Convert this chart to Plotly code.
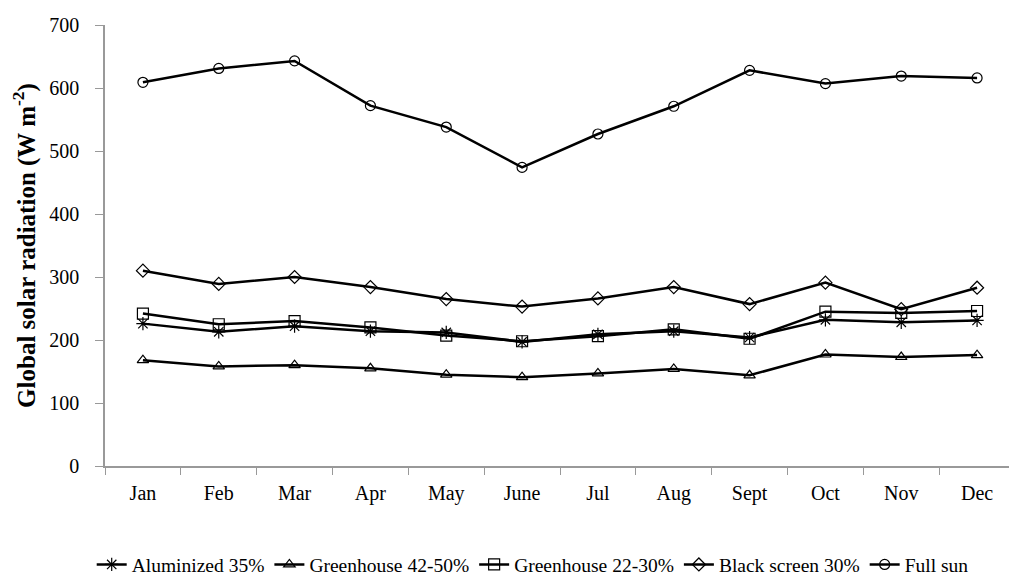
import plotly.graph_objects as go

months = ["Jan", "Feb", "Mar", "Apr", "May", "June", "Jul", "Aug", "Sept", "Oct", "Nov", "Dec"]
aluminized = [226, 213, 222, 214, 212, 197, 209, 214, 204, 232, 228, 231]
greenhouse_42_50 = [168, 158, 160, 155, 145, 141, 147, 154, 144, 177, 173, 176]
greenhouse_22_30 = [242, 225, 230, 220, 207, 198, 206, 217, 202, 245, 243, 246]
black_screen = [310, 289, 300, 284, 265, 253, 266, 284, 257, 291, 249, 283]
full_sun = [609, 631, 643, 572, 538, 474, 527, 571, 628, 607, 619, 616]

series = [
    ("Aluminized 35%", aluminized, "asterisk-open", 11),
    ("Greenhouse 42-50%", greenhouse_42_50, "triangle-up-open", 10),
    ("Greenhouse 22-30%", greenhouse_22_30, "square-open", 11),
    ("Black screen 30%", black_screen, "diamond-open", 10),
    ("Full sun", full_sun, "circle-open", 10),
]

fig = go.Figure()
for name, vals, sym, sz in series:
    fig.add_trace(go.Scatter(
        x=months, y=vals, name=name, mode="lines+markers",
        line=dict(color="black", width=2.5),
        marker=dict(symbol=sym, size=sz, color="black", line=dict(color="#333", width=1.2)),
    ))

serif = "Liberation Serif"
fig.update_layout(
    width=1009, height=590,
    margin=dict(l=97, r=2, t=17, b=132),
    plot_bgcolor="white", paper_bgcolor="white",
    font=dict(family=serif, color="black", size=18),
    showlegend=True,
    legend=dict(orientation="h", x=0.47, xanchor="center", y=-0.224, yanchor="middle",
                font=dict(family=serif, size=19.5), itemwidth=30, tracegroupgap=0),
    xaxis=dict(type="category", range=[-0.5, 11.5], tickson="boundaries",
               ticks="outside", ticklen=7, tickcolor="#999", showline=True, linecolor="#999",
               linewidth=1.5, showgrid=False, tickfont=dict(family=serif, size=20),
               zeroline=False, ticklabelstandoff=8, automargin=False),
    yaxis=dict(range=[0, 700], dtick=100, ticks="outside", ticklen=8, tickcolor="#999",
               showline=True, linecolor="#999", linewidth=1.5, showgrid=False, zeroline=False,
               tickfont=dict(family=serif, size=20), ticklabelstandoff=12, automargin=False,
               title=dict(text="<b>Global solar radiation (W m<sup>-2</sup>)</b>",
                          font=dict(family=serif, size=25))),
)
fig.write_html("out.html")
